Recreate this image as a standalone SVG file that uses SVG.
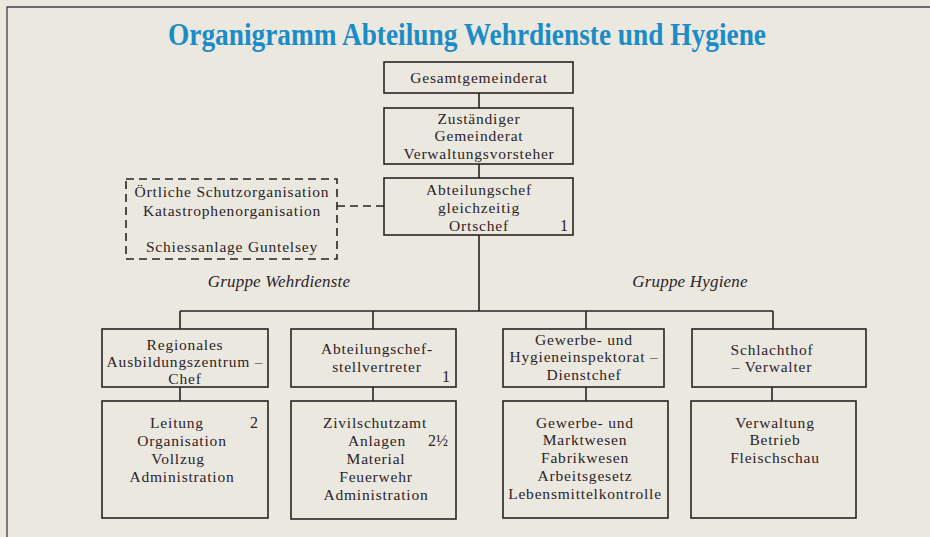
<svg xmlns="http://www.w3.org/2000/svg" width="930" height="537" viewBox="0 0 930 537">
<style>
.bx{fill:none;stroke:#2a2226;stroke-width:1.6}
.ds{fill:none;stroke:#2a2226;stroke-width:1.6;stroke-dasharray:8 5}
.ln{fill:none;stroke:#2a2226;stroke-width:1.6}
.t{font-family:"Liberation Serif","Times New Roman",serif;font-size:15.5px;letter-spacing:0.8px;fill:#2b2327;text-anchor:middle}
.n{font-family:"Liberation Serif","Times New Roman",serif;font-size:16px;fill:#2b2327}
.g{font-family:"Liberation Serif","Times New Roman",serif;font-size:17px;font-style:italic;letter-spacing:0.2px;fill:#2b2327;text-anchor:middle}
.ti{font-family:"Liberation Serif","Times New Roman",serif;font-size:32px;font-weight:bold;fill:#1b8cc6}
</style>
<rect width="930" height="537" fill="#ebe8e0"/>
<path d="M7 537V7H930" fill="none" stroke="#4a3b4a" stroke-width="1.3"/>
<text class="ti" x="168" y="45" textLength="598" lengthAdjust="spacingAndGlyphs">Organigramm Abteilung Wehrdienste und Hygiene</text>

<g id="connectors">
<path class="ln" d="M479 93V108M479 164V178M479 235V311M180 311H773M180 311V329M373 311V329M586 311V329M773 311V329"/>
<path class="ln" d="M180 387V401M373 387V401M586 387V401M772 387V401"/>
<path class="ds" d="M337 206H384"/>
</g>

<g id="gesamtgemeinderat">
<rect class="bx" x="384" y="62" width="189" height="31"/>
<text class="t" x="479" y="83">Gesamtgemeinderat</text>
</g>
<g id="zustaendiger">
<rect class="bx" x="384" y="108" width="189" height="56"/>
<text class="t" x="479" y="124">Zuständiger</text>
<text class="t" x="479" y="141">Gemeinderat</text>
<text class="t" x="479" y="159">Verwaltungsvorsteher</text>
</g>
<g id="abteilungschef">
<rect class="bx" x="384" y="178" width="189" height="57"/>
<text class="t" x="479" y="195">Abteilungschef</text>
<text class="t" x="479" y="213">gleichzeitig</text>
<text class="t" x="479" y="231">Ortschef</text>
<text class="n" x="560" y="231">1</text>
</g>
<g id="schutzorganisation">
<rect class="ds" x="126" y="179" width="211" height="80"/>
<text class="t" x="232" y="197">Örtliche Schutzorganisation</text>
<text class="t" x="232" y="216">Katastrophenorganisation</text>
<text class="t" x="232" y="252">Schiessanlage Guntelsey</text>
</g>

<text class="g" x="279" y="287">Gruppe Wehrdienste</text>
<text class="g" x="690" y="287">Gruppe Hygiene</text>

<g id="ausbildungszentrum">
<rect class="bx" x="102" y="329" width="166" height="58"/>
<text class="t" x="185" y="350">Regionales</text>
<text class="t" x="185" y="367">Ausbildungszentrum –</text>
<text class="t" x="185" y="384">Chef</text>
</g>
<g id="stellvertreter">
<rect class="bx" x="291" y="329" width="165" height="58"/>
<text class="t" x="377" y="354">Abteilungschef-</text>
<text class="t" x="377" y="372">stellvertreter</text>
<text class="n" x="442" y="382">1</text>
</g>
<g id="hygieneinspektorat">
<rect class="bx" x="503" y="329" width="161" height="58"/>
<text class="t" x="584" y="345">Gewerbe- und</text>
<text class="t" x="584" y="362">Hygieneinspektorat –</text>
<text class="t" x="584" y="380">Dienstchef</text>
</g>
<g id="schlachthof">
<rect class="bx" x="692" y="329" width="174" height="58"/>
<text class="t" x="772" y="355">Schlachthof</text>
<text class="t" x="772" y="372">– Verwalter</text>
</g>

<g id="leitung">
<rect class="bx" x="102" y="401" width="166" height="117"/>
<text class="t" x="177" y="428">Leitung</text>
<text class="n" x="250" y="428">2</text>
<text class="t" x="182" y="446">Organisation</text>
<text class="t" x="178" y="464">Vollzug</text>
<text class="t" x="182" y="482">Administration</text>
</g>
<g id="zivilschutzamt">
<rect class="bx" x="291" y="401" width="165" height="118"/>
<text class="t" x="375" y="428">Zivilschutzamt</text>
<text class="t" x="377" y="446">Anlagen</text>
<text class="n" x="428" y="446">2½</text>
<text class="t" x="376" y="464">Material</text>
<text class="t" x="376" y="482">Feuerwehr</text>
<text class="t" x="376" y="500">Administration</text>
</g>
<g id="marktwesen">
<rect class="bx" x="503" y="401" width="165" height="117"/>
<text class="t" x="585" y="428">Gewerbe- und</text>
<text class="t" x="585" y="445">Marktwesen</text>
<text class="t" x="585" y="463">Fabrikwesen</text>
<text class="t" x="585" y="481">Arbeitsgesetz</text>
<text class="t" x="585" y="499">Lebensmittelkontrolle</text>
</g>
<g id="verwaltung">
<rect class="bx" x="691" y="401" width="165" height="117"/>
<text class="t" x="775" y="428">Verwaltung</text>
<text class="t" x="775" y="445">Betrieb</text>
<text class="t" x="775" y="463">Fleischschau</text>
</g>
</svg>
